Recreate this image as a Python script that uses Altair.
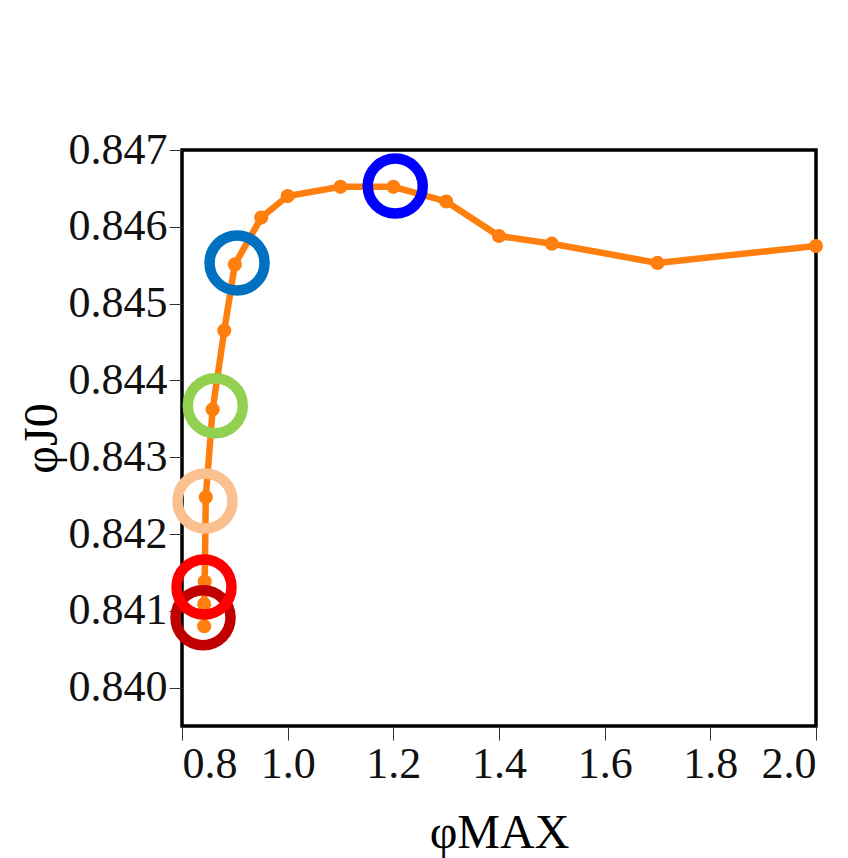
import altair as alt
import pandas as pd

# Curve data
phi_max = [0.842, 0.842, 0.843, 0.845, 0.858, 0.880, 0.900, 0.950, 1.0, 1.1, 1.2, 1.3, 1.4, 1.5, 1.7, 2.0]
phi_j0 = [0.84080, 0.84109, 0.84138, 0.84248, 0.84362, 0.84465, 0.84551, 0.84612,
          0.84640, 0.84652, 0.84652, 0.84633, 0.84588, 0.84578, 0.84553, 0.84575]

# Highlight rings
ring_x = [0.8398, 0.8417, 0.8436, 0.8630, 0.9042, 1.2036]
ring_y = [0.84091, 0.84131, 0.84243, 0.84367, 0.84553, 0.84653]
ring_id = ["a", "b", "c", "d", "e", "f"]
ring_colors = ["#C00000", "#FF0000", "#FAC090", "#92D050", "#0070C0", "#0000FF"]

x_ticks = [0.8, 1.0, 1.2, 1.4, 1.6, 1.8, 2.0]
y_ticks = [0.840, 0.841, 0.842, 0.843, 0.844, 0.845, 0.846, 0.847]

curve = pd.DataFrame({"x": phi_max, "y": phi_j0, "i": list(range(len(phi_max)))})
rings = pd.DataFrame({"x": ring_x, "y": ring_y, "id": ring_id})

FONT = "Liberation Serif"

xscale = alt.Scale(domain=[0.8, 2.0], nice=False, zero=False)
yscale = alt.Scale(domain=[0.8395, 0.847], nice=False, zero=False)

xaxis = alt.Axis(values=x_ticks, format=".1f", title="φMAX", grid=False, domain=False,
                 tickSize=14, tickColor="#333333", tickWidth=1, labelPadding=2,
                 labelFont=FONT, labelFontSize=44, labelColor="#111111",
                 titleFont=FONT, titleFontSize=48, titleFontWeight="normal", titleColor="#000000",
                 titleY=121, titleBaseline="alphabetic")
yaxis = alt.Axis(values=y_ticks, format=".3f", title="φJ0", grid=False, domain=False,
                 tickSize=13, tickColor="#333333", tickWidth=1, labelPadding=2,
                 labelFont=FONT, labelFontSize=44, labelColor="#111111",
                 titleFont=FONT, titleFontSize=48, titleFontWeight="normal", titleColor="#000000",
                 titleX=-126, titleBaseline="alphabetic")

line = alt.Chart(curve).mark_line(color="#FF7F0E", strokeWidth=6.5).encode(
    x=alt.X("x:Q", scale=xscale, axis=xaxis),
    y=alt.Y("y:Q", scale=yscale, axis=yaxis),
    order="i:Q",
)
pts = alt.Chart(curve).mark_point(filled=True, color="#FF7F0E", size=200, opacity=1, shape="circle").encode(
    x=alt.X("x:Q", scale=xscale),
    y=alt.Y("y:Q", scale=yscale),
)
ring = alt.Chart(rings).mark_point(filled=False, size=3025, strokeWidth=10.5, opacity=1, shape="circle").encode(
    x=alt.X("x:Q", scale=xscale),
    y=alt.Y("y:Q", scale=yscale),
    color=alt.Color("id:N", scale=alt.Scale(domain=ring_id, range=ring_colors), legend=None),
)

chart = (line + pts + ring).properties(
    width=634, height=576,
    autosize=alt.AutoSizeParams(type="none"),
    padding={"left": 182, "top": 150, "right": 32, "bottom": 132},
    background="white",
).configure_view(stroke="black", strokeWidth=3.5)

chart.save("out.html", embed_options={"renderer": "svg", "actions": False})
